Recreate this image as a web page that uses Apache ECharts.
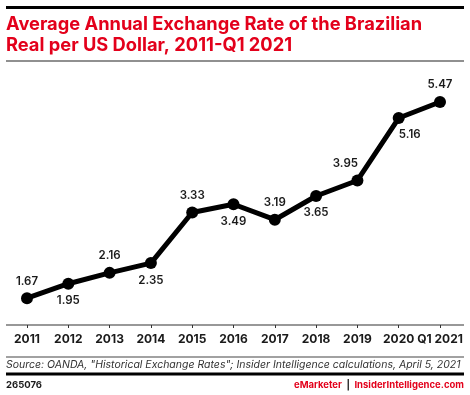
<!DOCTYPE html>
<html>
<head>
<meta charset="utf-8">
<script src="https://cdn.jsdelivr.net/npm/echarts@6/dist/echarts.min.js"></script>
<style>
html,body{margin:0;padding:0;background:#fff;}
#chart{width:470px;height:395px;}
</style>
</head>
<body>
<div id="chart"></div>
<script>
const categories = ['2011','2012','2013','2014','2015','2016','2017','2018','2019','2020','Q1 2021'];
const rates = [1.67, 1.95, 2.16, 2.35, 3.33, 3.49, 3.19, 3.65, 3.95, 5.16, 5.47];
const titleText = 'Average Annual Exchange Rate of the Brazilian\nReal per US Dollar, 2011-Q1 2021';
const sourceText = 'Source: OANDA, "Historical Exchange Rates"; Insider Intelligence calculations, April 5, 2021';
const chartId = '265076';

const FONT = 'Inter, "Noto Sans", sans-serif';
const RED = '#e3001b';

// label placement tweaks (style only)
const labelShift = { 8: [-12, 0], 9: [11, 0] };

const chart = echarts.init(document.getElementById('chart'), null, {renderer: 'canvas'});

const seriesData = rates.map((v, i) => ({
  value: v,
  label: { position: i % 2 === 0 ? 'top' : 'bottom', offset: labelShift[i] || [0, 0] }
}));

chart.setOption({
  animation: false,
  backgroundColor: '#fff',
  grid: { left: 27, right: 30, top: 85, bottom: 70 },
  xAxis: {
    type: 'category',
    data: categories,
    boundaryGap: false,
    axisLine: { show: false },
    axisTick: { show: true, length: 3, lineStyle: { color: '#333', width: 1 } },
    axisLabel: {
      color: '#1a1a1a', fontFamily: FONT, fontSize: 12, fontWeight: 'bold',
      margin: 8, interval: 0
    },
    splitLine: { show: false }
  },
  yAxis: {
    type: 'value', min: 1.15, max: 5.8,
    show: false, splitLine: { show: false }
  },
  series: [{
    type: 'line',
    data: seriesData,
    symbol: 'circle',
    symbolSize: 12,
    lineStyle: { color: '#000', width: 5 },
    itemStyle: { color: '#000' },
    label: {
      show: true, color: '#1a1a1a', fontFamily: FONT, fontSize: 11.5, fontWeight: 600,
      distance: 5,
      formatter: p => p.value.toFixed(2)
    },
    z: 3
  }],
  graphic: [
    { type: 'rect', shape: { x: 6, y: 6, width: 458, height: 3 }, style: { fill: '#000' } },
    { type: 'text', left: 6, top: 14,
      style: { text: titleText, fill: RED, font: 'bold 18.3px ' + FONT, lineHeight: 21 } },
    { type: 'rect', shape: { x: 6, y: 60.5, width: 458, height: 1 }, style: { fill: '#222' } },
    { type: 'rect', shape: { x: 6, y: 324.5, width: 458, height: 1 }, style: { fill: '#333' } },
    { type: 'rect', shape: { x: 6, y: 356.5, width: 458, height: 1 }, style: { fill: '#444' } },
    { type: 'text', left: 6, top: 359,
      style: { text: sourceText, fill: '#333', font: 'italic 10.5px ' + FONT } },
    { type: 'rect', shape: { x: 6, y: 372.5, width: 458, height: 3 }, style: { fill: '#000' } },
    { type: 'text', left: 6, top: 380,
      style: { text: chartId, fill: '#1a1a1a', font: 'bold 9.5px ' + FONT } },
    { type: 'text', right: 6, top: 380,
      style: {
        text: '{a|eMarketer}{b|  |  }{a|InsiderIntelligence.com}',
        rich: {
          a: { fill: RED, font: 'bold 9.5px ' + FONT },
          b: { fill: '#1a1a1a', font: 'bold 9.5px ' + FONT }
        }
      } }
  ]
});
</script>
</body>
</html>
